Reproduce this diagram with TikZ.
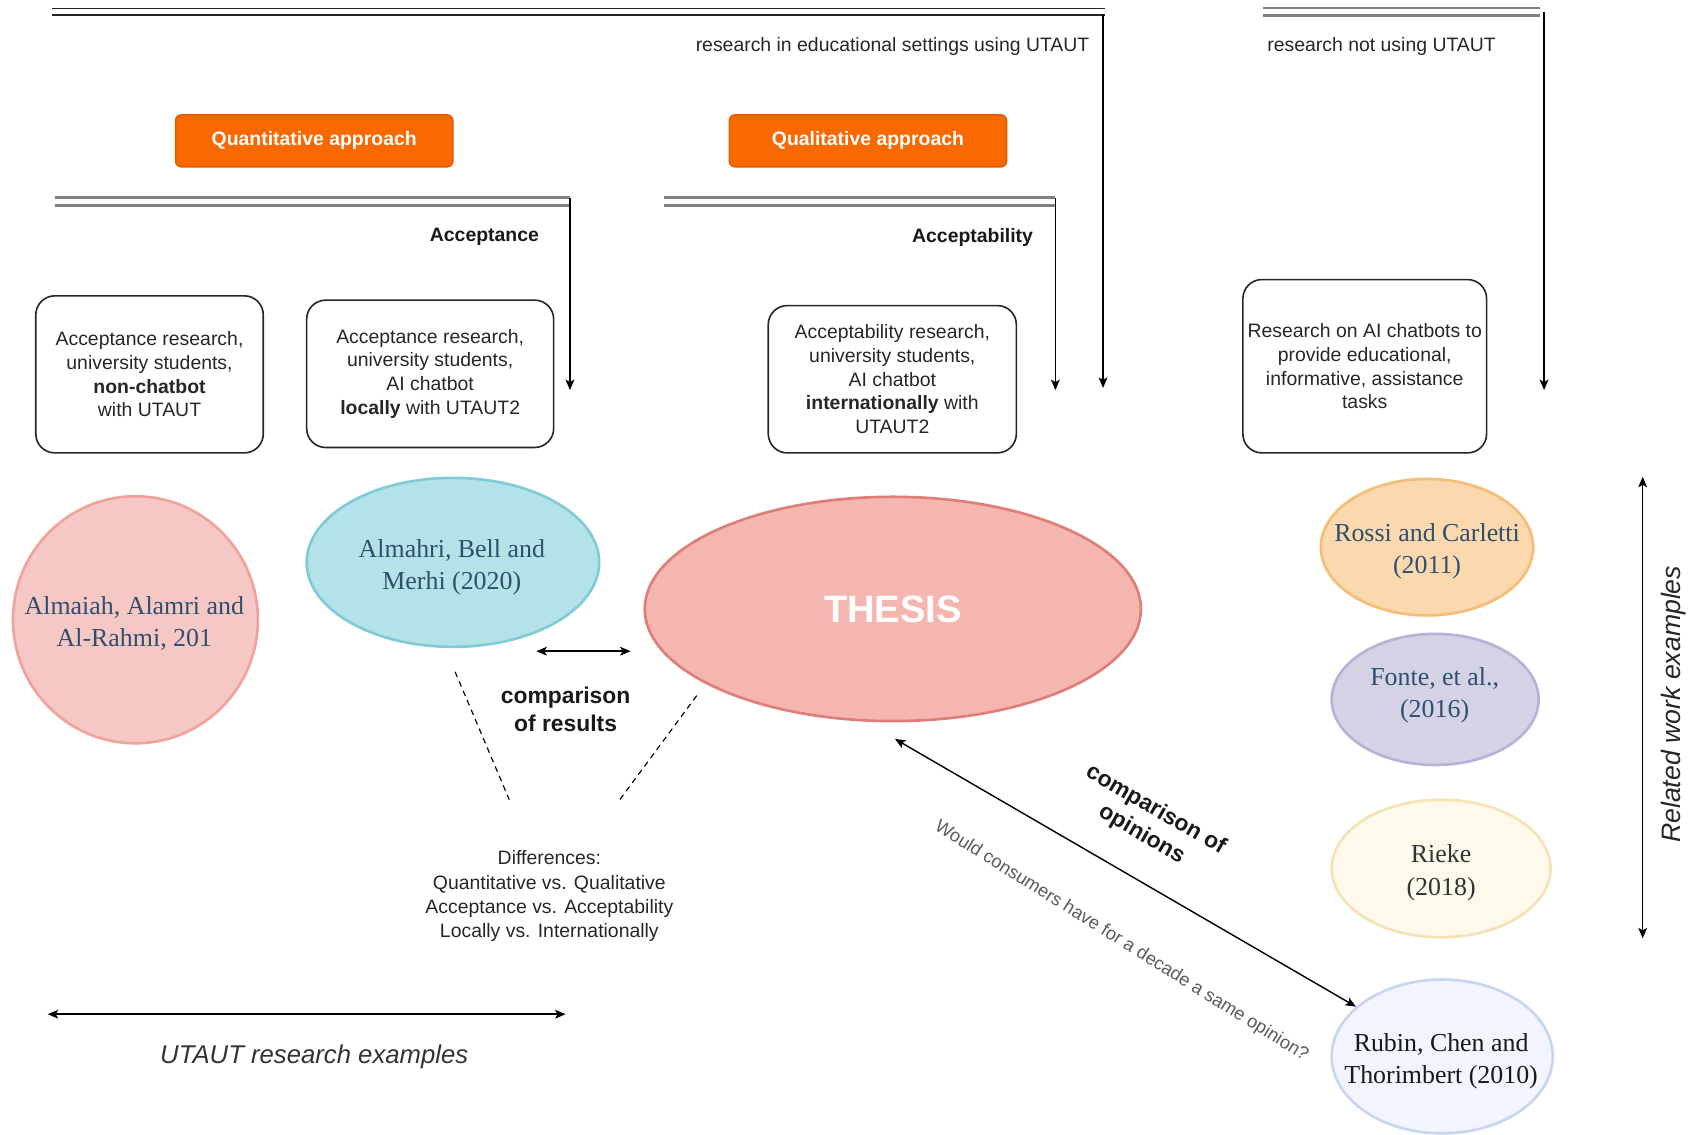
\documentclass[tikz,border=0pt]{standalone}
\usepackage{fontspec}
\setmainfont{Liberation Sans}
\newfontfamily\refserif{Liberation Serif}
\usetikzlibrary{shapes.geometric,arrows.meta}

\definecolor{apporange}{HTML}{FA6800}
\definecolor{apporangeline}{HTML}{E05A00}
\definecolor{dblgray}{HTML}{7F7F7F}
\definecolor{boxtext}{HTML}{262626}
\definecolor{paperblue}{HTML}{2F4F6E}
\definecolor{almaiahfill}{HTML}{F6C8C5}
\definecolor{almaiahline}{HTML}{F0A29D}
\definecolor{almahrifill}{HTML}{B3E3E8}
\definecolor{almahriline}{HTML}{80CCD6}
\definecolor{thesisfill}{HTML}{F5B6B0}
\definecolor{thesisline}{HTML}{DF7E78}
\definecolor{rossifill}{HTML}{FBD8AE}
\definecolor{rossiline}{HTML}{F5BD75}
\definecolor{fontefill}{HTML}{D5D2E6}
\definecolor{fonteline}{HTML}{B9B1D8}
\definecolor{riekefill}{HTML}{FFF9EC}
\definecolor{riekeline}{HTML}{F3E3B5}
\definecolor{rubinfill}{HTML}{F2F5FD}
\definecolor{rubinline}{HTML}{C8D5EE}

\begin{document}
\begin{tikzpicture}[
                x=0.02cm, y=-0.02cm,
                >={Stealth[length=5.5pt,width=4.6pt,inset=1.3pt]},
                line width=0.75pt,
                resbox/.style={draw=black!85, rounded corners=10pt, align=center, inner sep=0pt,
                               text=boxtext, line width=0.85pt, font=\fontsize{10.2}{12.5}\selectfont},
                appbox/.style={draw=apporangeline, fill=apporange, rounded corners=3pt, text=white,
                               minimum width=5.12cm, minimum height=0.96cm, font=\bfseries\fontsize{10.2}{12}\selectfont},
                paper/.style={ellipse, line width=1.4pt, inner sep=0pt},
                papertxt/.style={align=center, text=paperblue, font=\refserif\fontsize{13.6}{17}\selectfont},
                linkgray/.style={draw=dblgray, line width=1.3pt, double=white, double distance=2.7pt},
                linkblack/.style={draw=black!85, line width=0.9pt, double=white, double distance=2.7pt},
                toplabel/.style={inner sep=0pt, text=boxtext, font=\fontsize{10.2}{12}\selectfont},
                boldlabel/.style={inner sep=0pt, text=black!90, font=\bfseries\fontsize{10.2}{12}\selectfont},
                cmplabel/.style={align=center, text=black!90, font=\bfseries\fontsize{12}{14.8}\selectfont}] %

% research lines
\draw[linkblack] (48,11) -- (1020,11);
\coordinate (EDUS) at (1018,14);
\coordinate (EDUE) at (1018,358);
\draw[->] (EDUS) -- (EDUE);
\node[toplabel, anchor=east] (EDUT) at (1006,43) {research in educational settings using UTAUT};

\draw[linkgray] (1166,11) -- (1421,11);
\coordinate (NOUS) at (1425,11);
\coordinate (NOUE) at (1425,360);
\draw[->] (NOUS) -- (NOUE);
\node[toplabel, anchor=west] (NOUT) at (1169,43) {research not using UTAUT};

                    % 1
                    \node[appbox] (QUANT) at (290,130) {Quantitative approach};
                    \draw[linkgray] (51,186) -- (526,186);
                    \coordinate (ACCS) at (526,183);
                    \coordinate (ACCE) at (526,360);
                    \draw[->] (ACCS) -- (ACCE);
                    \node[boldlabel, anchor=east] (ACCT) at (498,219) {Acceptance};

                    % 2
                    \node[appbox] (QUAL) at (801,130) {Qualitative approach};
                    \draw[linkgray] (613,186) -- (974,186);
                    \coordinate (ACBS) at (974,183);
                    \coordinate (ACBE) at (974,360);
                    \draw[->] (ACBS) -- (ACBE);
                    \node[boldlabel, anchor=east] (ACBT) at (954,219) {Acceptability};

%%%%%%%%%%%%%%%%%%%%%%%%%%%%%%%%%%%%%%%%%%%%%%%%%%%%%%%%%%%%%%%%%%%%%%%%%%%%%%%%%%%%

                    % boxes
                    \node[resbox, minimum width=4.2cm, minimum height=2.9cm] (NONCB) at (138,345.5) {Acceptance research,\\university students,\\\textbf{non-chatbot}\\with UTAUT};
                    \node[resbox, minimum width=4.56cm, minimum height=2.72cm] (LOCAL) at (397,345) {Acceptance research,\\university students,\\AI chatbot\\\textbf{locally} with UTAUT2};
                    \node[resbox, minimum width=4.58cm, minimum height=2.72cm] (INTL) at (823.5,350) {Acceptability research,\\university students,\\AI chatbot\\\textbf{internationally} with\\UTAUT2};
                    \node[resbox, minimum width=4.5cm, minimum height=3.2cm] (AIEDU) at (1259.5,338) {Research on AI chatbots to\\provide educational,\\informative, assistance\\tasks};

                    % papers
                    \node[paper, fill=almaiahfill, draw=almaiahline, minimum width=4.52cm, minimum height=4.56cm] (ALMAIAH) at (125,572) {};
                    \node[papertxt] (ALMAIAHT) at (124,575.5) {Almaiah, Alamri and\\Al-Rahmi, 201};
                    \node[paper, fill=almahrifill, draw=almahriline, minimum width=5.4cm, minimum height=3.12cm] (ALMAHRI) at (418,519) {};
                    \node[papertxt] (ALMAHRIT) at (417,523.5) {Almahri, Bell and\\Merhi (2020)};
                    \node[paper, fill=thesisfill, draw=thesisline, minimum width=9.16cm, minimum height=4.14cm,
                          text=white, font=\bfseries\fontsize{20}{24}\selectfont] (THESIS) at (824,562) {THESIS};

                    \node[paper, fill=rossifill, draw=rossiline, minimum width=3.92cm, minimum height=2.52cm] (ROSSI) at (1317,505) {};
                    \node[papertxt] (ROSSIT) at (1317,508.5) {Rossi and Carletti\\(2011)};
                    \node[paper, fill=fontefill, draw=fonteline, minimum width=3.82cm, minimum height=2.42cm] (FONTE) at (1324.5,645.5) {};
                    \node[papertxt] (FONTET) at (1324,641.5) {Fonte, et al.,\\(2016)};
                    \node[paper, fill=riekefill, draw=riekeline, minimum width=4.04cm, minimum height=2.54cm] (RIEKE) at (1330,801.5) {};
                    \node[papertxt, text=black!80] (RIEKET) at (1330,805.5) {Rieke\\(2018)};
                    \node[paper, fill=rubinfill, draw=rubinline, minimum width=4.08cm, minimum height=2.84cm] (RUBIN) at (1331,975) {};
                    \node[papertxt, text=black!90] (RUBINT) at (1330,979.5) {Rubin, Chen and\\Thorimbert (2010)};

% comparison of results
\coordinate (CMPL) at (495,601);
\coordinate (CMPR) at (582,601);
\draw[<->] (CMPL) -- (CMPR);
\node[cmplabel] (CMPT) at (522,655) {comparison\\of results};

\coordinate (DSHA) at (420,620);
\coordinate (DSHB) at (470,738);
\coordinate (DSHC) at (643,642);
\coordinate (DSHD) at (572,738);
\draw[dash pattern=on 3pt off 2.4pt, line width=0.6pt] (DSHA) -- (DSHB);
\draw[dash pattern=on 3pt off 2.4pt, line width=0.6pt] (DSHC) -- (DSHD);
\node[align=center, text=boxtext, font=\fontsize{10.2}{12.7}\selectfont] (DIFF) at (507,827) {Differences:\\Quantitative vs. Qualitative\\Acceptance vs. Acceptability\\Locally vs. Internationally};

% comparison of opinions
\coordinate (OPA) at (826,682);
\draw[<->] (OPA) -- (RUBIN.150);
\node[cmplabel, inner sep=0pt, rotate=-30] (OPT) at (1060,759) {comparison of\\opinions};
\node[inner sep=0pt, rotate=-32, text=black!65, font=\fontsize{9.6}{11}\selectfont] (QST) at (1035,869) {Would consumers have for a decade a same opinion?};

% examples
\coordinate (UTL) at (44,936);
\coordinate (UTR) at (522,936);
\draw[<->] (UTL) -- (UTR);
\node[text=black!80, font=\itshape\fontsize{13.5}{16}\selectfont] (UTT) at (290,975) {UTAUT research examples};

\coordinate (RWT) at (1516,440);
\coordinate (RWB) at (1516,866);
\draw[<->] (RWT) -- (RWB);
\node[rotate=90, text=black!85, font=\itshape\fontsize{14}{16}\selectfont] (RWX) at (1545,650) {Related work examples};

\useasboundingbox (0,0) rectangle (1568,1047);

\end{tikzpicture}
\end{document}
